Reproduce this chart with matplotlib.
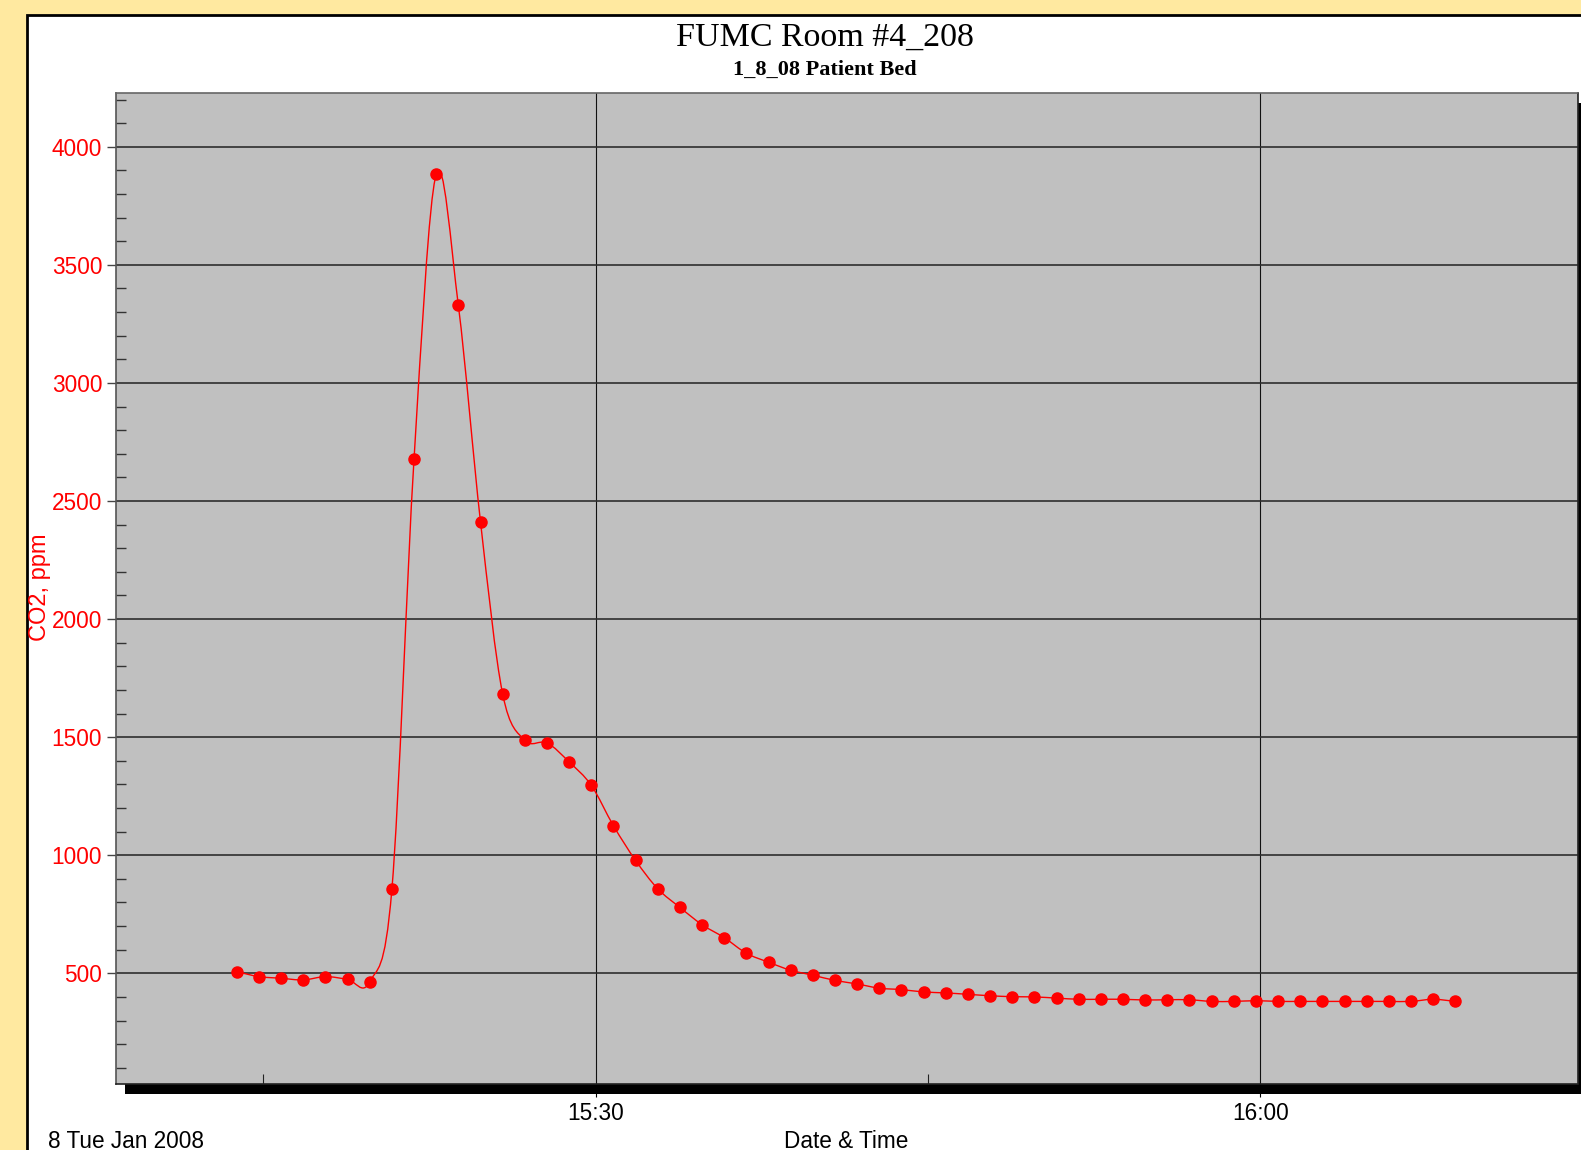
import numpy as np
import pandas as pd
import matplotlib
matplotlib.use('Agg')
import matplotlib.pyplot as plt
import matplotlib.dates as mdates
from matplotlib.path import Path
from matplotlib.patches import PathPatch, Rectangle

# CO2 logger readings, one per minute, 8 Jan 2008
start_time = '2008-01-08 15:13:48'
co2_ppm = [507, 486, 479, 472, 486, 475, 464, 856, 2678, 3884,
           3328, 2412, 1683, 1487, 1476, 1395, 1296, 1125, 978, 858,
           779, 706, 651, 585, 547, 513, 492, 470, 455, 437,
           431, 421, 417, 411, 405, 401, 400, 395, 390, 390,
           390, 387, 388, 388, 381, 381, 384, 381, 381, 381,
           381, 381, 381, 381, 390, 381]
times = pd.date_range(start_time, periods=len(co2_ppm), freq='1min')

title = 'FUMC Room #4_208'
subtitle = '1_8_08 Patient Bed'
y_label = 'CO2, ppm'
x_label = 'Date & Time'
date_label = '8 Tue Jan 2008'

W, H = 1581, 1150
RED = '#ff0000'
plt.rcParams['font.family'] = 'Liberation Sans'

fig = plt.figure(figsize=(W / 100, H / 100), dpi=100)
fig.patch.set_facecolor('#ffe9a0')

def px(x, y):
    # pixel position (top-left origin) -> figure fraction
    return x / W, 1 - y / H

# white panel with black border
x0, y0 = px(27, 15)
fig.patches.append(Rectangle((x0, -0.1), 1.2, y0 + 0.1, transform=fig.transFigure,
                             facecolor='white', edgecolor='black', lw=2, zorder=-3))
# drop shadow behind plot area
sx, sy = px(125, 1094)
fig.patches.append(Rectangle((sx, sy), 1.2, px(0, 103)[1] - sy, transform=fig.transFigure,
                             facecolor='black', edgecolor='none', zorder=-2))

l, t = px(115.7, 92.7)
r, b = px(1577.5, 1084.3)
ax = fig.add_axes([l, b, r - l, t - b])
ax.set_facecolor('#c0c0c0')

# smooth curve through the readings (Catmull-Rom as cubic Bezier)
xs = mdates.date2num(times.to_pydatetime())
ys = np.array(co2_ppm, dtype=float)
pts = np.column_stack([xs, ys])
ext = np.vstack([pts[0], pts, pts[-1]])
verts = [pts[0]]
codes = [Path.MOVETO]
for i in range(1, len(ext) - 2):
    p0, p1, p2, p3 = ext[i - 1], ext[i], ext[i + 1], ext[i + 2]
    verts += [p1 + (p2 - p0) / 6, p2 - (p3 - p1) / 6, p2]
    codes += [Path.CURVE4] * 3
ax.add_patch(PathPatch(Path(verts, codes), fill=False, edgecolor=RED, lw=1.0, zorder=3))
ax.plot(times, co2_ppm, 'o', color=RED, ms=8, mec=RED, zorder=4)

ax.set_xlim(pd.Timestamp('2008-01-08 15:08:20'), pd.Timestamp('2008-01-08 16:14:19'))
ax.set_ylim(30, 4229)

ax.xaxis.set_major_locator(mdates.MinuteLocator(byminute=[0, 30]))
ax.xaxis.set_minor_locator(mdates.MinuteLocator(byminute=[15, 45]))
ax.xaxis.set_major_formatter(mdates.DateFormatter('%H:%M'))
ax.set_yticks(np.arange(500, 4001, 500))
ax.set_yticks(np.arange(100, 4201, 100), minor=True)

ax.tick_params(axis='x', which='major', direction='out', length=9.5, width=0.8,
               color='black', labelsize=16.3, pad=3.0)
ax.tick_params(axis='x', which='minor', direction='in', length=7.2, width=0.8, color='#222222')
ax.tick_params(axis='y', which='major', direction='out', length=6.5, width=1.0,
               color='#444444', labelsize=16.3, labelcolor=RED, pad=3.2)
ax.tick_params(axis='y', which='minor', direction='in', length=6.9, width=1.0, color='#333333')

ax.yaxis.grid(True, which='major', color='#2e2e2e', lw=1.2)
ax.xaxis.grid(True, which='major', color='#111111', lw=0.8)
ax.set_axisbelow(True)

ax.spines['left'].set_color('#555555')
ax.spines['top'].set_color('#666666')
ax.spines['right'].set_color('#222222')
ax.spines['bottom'].set_color('#222222')
for s in ax.spines.values():
    s.set_linewidth(1.2)

fig.text(*px(824.5, 37.5), title, ha='center', va='center', fontsize=24.5,
         family='Liberation Serif')
fig.text(*px(824.5, 69.5), subtitle, ha='center', va='center', fontsize=16,
         family='Liberation Serif', fontweight='bold')
fig.text(*px(40, 587), y_label, ha='center', va='center', rotation=90,
         fontsize=17, color=RED)
fig.text(*px(48, 1141), date_label, ha='left', va='center', fontsize=16.3)
fig.text(*px(845.7, 1141), x_label, ha='center', va='center', fontsize=16.3)

fig.savefig('out.png', dpi=100, facecolor=fig.get_facecolor())
